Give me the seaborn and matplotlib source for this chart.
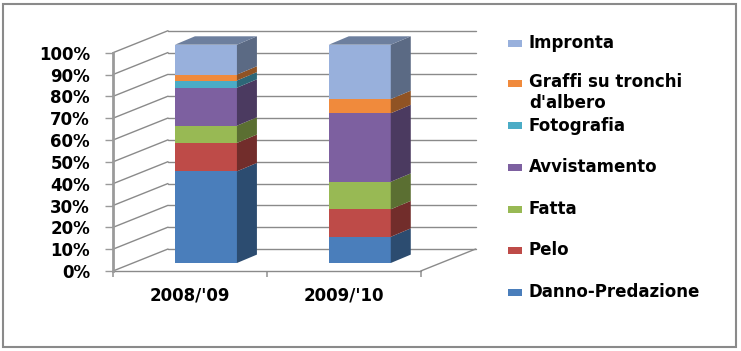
import numpy as np
import matplotlib
matplotlib.use("Agg")
import matplotlib.pyplot as plt
import seaborn as sns
from matplotlib.patches import Polygon, Rectangle
from matplotlib.colors import to_rgb

# ---------------- data ----------------
categories = ["2008/'09", "2009/'10"]
series_names = ["Danno-Predazione", "Pelo", "Fatta", "Avvistamento",
                "Fotografia", "Graffi su tronchi\nd'albero", "Impronta"]
danno = [42.0, 12.0]
pelo = [13.0, 12.6]
fatta = [7.9, 12.6]
avvistamento = [17.4, 31.4]
fotografia = [3.3, 0.0]
graffi = [2.7, 6.5]
impronta = [13.7, 24.9]
y_ticks = [0, 10, 20, 30, 40, 50, 60, 70, 80, 90, 100]
y_tick_labels = [f"{v}%" for v in y_ticks]

series_colors = ["#4A7EBB", "#BE4B48", "#98B954", "#7D60A0",
                 "#4BACC6", "#F08A3C", "#98B0DC"]

# ---------------- setup ----------------
sns.set_style("white")
plt.rcParams['font.family'] = ['DejaVu Sans']
plt.rcParams['text.color'] = 'black'
plt.rcParams['xtick.labelcolor'] = 'black'
plt.rcParams['ytick.labelcolor'] = 'black'
FS = 12

W, H = 741, 351
fig = plt.figure(figsize=(W / 100, H / 100), dpi=100)
fig.patch.set_facecolor("white")

# front plane of the 3D box, in pixels from top-left
L, R, B, T = 113, 420.7, 271, 52.7
ax = fig.add_axes([L / W, (H - B) / H, (R - L) / W, (B - T) / H])
ax.set_facecolor("none")

sx = (R - L) / 2.0      # px per category unit
sy = (B - T) / 100.0    # px per percent

wdx, wdy = 55 / sx, 22 / sy       # wall depth
fdx, fdy = 16 / sx, 8 / sy        # bar front offset
bdx, bdy = 20 / sx, 8.4 / sy      # bar depth
bw = 62 / sx                      # bar width

vals = np.array([danno, pelo, fatta, avvistamento, fotografia, graffi, impronta], dtype=float)
pct = vals / vals.sum(axis=0) * 100.0
cum = np.cumsum(pct, axis=0)
bottoms = cum - pct

GRID = "#8a8a8a"
# ---------------- walls / gridlines ----------------
for v in y_ticks:
    ax.plot([-0.5, -0.5 + wdx], [v, v + wdy], color=GRID, lw=1.0, zorder=1, clip_on=False)
    ax.plot([-0.5 + wdx, 1.5 + wdx], [v + wdy, v + wdy], color=GRID, lw=1.0, zorder=1, clip_on=False)
ax.plot([-0.5, 1.5], [0, 0], color=GRID, lw=1.0, zorder=1, clip_on=False)
ax.plot([1.5, 1.5 + wdx], [0, wdy], color=GRID, lw=1.0, zorder=1, clip_on=False)

# ---------------- bars (front faces via seaborn, stacked by overlap) ----------------
for k in range(len(series_names) - 1, -1, -1):
    sns.barplot(x=categories, y=cum[k], color=series_colors[k], saturation=1,
                width=bw, errorbar=None, ax=ax, zorder=2)

for p in ax.patches:
    p.set_x(p.get_x() + fdx)
    p.set_y(p.get_y() + fdy)
    p.set_linewidth(0)
    p.set_clip_on(False)


def shade(c, f):
    r, g, b = to_rgb(c)
    return (r * f, g * f, b * f)


for i in range(len(categories)):
    xr = i + bw / 2 + fdx
    xl = i - bw / 2 + fdx
    for k in range(len(series_names)):
        b0, t0 = bottoms[k, i], cum[k, i]
        if t0 - b0 <= 0:
            continue
        poly = Polygon([(xr, b0 + fdy), (xr, t0 + fdy),
                        (xr + bdx, t0 + fdy + bdy), (xr + bdx, b0 + fdy + bdy)],
                       closed=True, facecolor=shade(series_colors[k], 0.6),
                       edgecolor="none", zorder=2, clip_on=False)
        ax.add_patch(poly)
    top = cum[-1, i]
    ax.add_patch(Polygon([(xl, top + fdy), (xr, top + fdy),
                          (xr + bdx, top + fdy + bdy), (xl + bdx, top + fdy + bdy)],
                         closed=True, facecolor=shade(series_colors[-1], 0.72),
                         edgecolor="none", zorder=2, clip_on=False))

# ---------------- axes styling ----------------
ax.set_xlim(-0.5, 1.5)
ax.set_ylim(0, 100)
for s in ["top", "right", "bottom"]:
    ax.spines[s].set_visible(False)
ax.spines["left"].set_color("#9a9a9a")
ax.spines["left"].set_linewidth(2)
ax.set_yticks(y_ticks, y_tick_labels)
ax.tick_params(axis="y", direction="out", length=6, width=1, color="#9a9a9a",
               pad=10.5, labelsize=FS, left=True, labelcolor="black")
for lab in ax.get_yticklabels():
    lab.set_fontweight("bold")
ax.set_xticks([0, 1], categories)
ax.set_xticks([-0.5, 0.5, 1.5], minor=True)
ax.tick_params(axis="x", which="major", length=0, pad=11, labelsize=FS, labelcolor="black")
ax.tick_params(axis="x", which="minor", direction="out", length=4, width=1.2,
               color="#9a9a9a", bottom=True)
for lab in ax.get_xticklabels():
    lab.set_fontweight("bold")
ax.set_xlabel("")
ax.set_ylabel("")
ax.grid(False)

# ---------------- legend ----------------
rows_y = [292, 250, 209, 167, 126, 83, 43]
for k, name in enumerate(series_names):
    yc = rows_y[k]
    fig.patches.append(Rectangle((508 / W, (H - yc - 3.5) / H), 14 / W, 7 / H,
                                 transform=fig.transFigure, facecolor=series_colors[k],
                                 edgecolor="none"))
    ty = yc if "\n" not in name else yc + 9.5
    fig.text(529 / W, (H - ty) / H, name, ha="left", va="center",
             fontsize=FS, fontweight="bold", color="black", linespacing=1.15)

# ---------------- outer frame ----------------
fig.patches.append(Rectangle((2.5 / W, 4 / H), 733.5 / W, 343 / H,
                             transform=fig.transFigure, fill=False,
                             edgecolor="#8a8a8a", linewidth=1.5))

fig.savefig("out.png", dpi=100)
